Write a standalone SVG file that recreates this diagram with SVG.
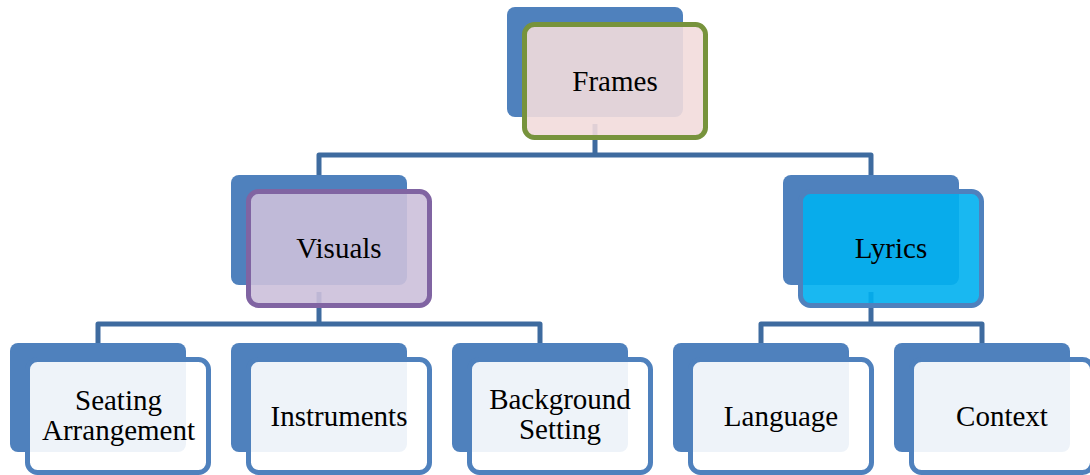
<svg xmlns="http://www.w3.org/2000/svg" width="1090" height="475" viewBox="0 0 1090 475">
<style>
.back{fill:#4f81bd}
.front{stroke-width:5}
.leaf{fill:#ffffff;fill-opacity:0.9;stroke:#4f81bd}
.conn{fill:none;stroke:#3e6b9f;stroke-width:5;stroke-linejoin:round}
text{font-family:"Liberation Serif","Times New Roman",serif;font-size:29px;fill:#000;text-anchor:middle}
</style>
<rect width="1090" height="475" fill="#ffffff"/>
<g id="connectors">
<path class="conn" d="M595 124 V155 M319 175 V155 H871 V175"/>
<path class="conn" d="M319 292 V324 M98 343 V324 H540 V343"/>
<path class="conn" d="M871 292 V324 M761 343 V324 H982 V343"/>
</g>
<g id="frames">
<rect class="back" x="507" y="7" width="176" height="110" rx="8"/>
<rect class="front" x="524.5" y="24.5" width="181" height="113" rx="10" fill="#f2dcdb" fill-opacity="0.9" stroke="#77933c"/>
<text x="615" y="91">Frames</text>
</g>
<g id="visuals">
<rect class="back" x="231" y="175" width="176" height="110" rx="8"/>
<rect class="front" x="248.5" y="191.5" width="181" height="114" rx="10" fill="#ccc0da" fill-opacity="0.9" stroke="#8064a2"/>
<text x="339" y="258">Visuals</text>
</g>
<g id="lyrics">
<rect class="back" x="783" y="175" width="176" height="110" rx="8"/>
<rect class="front" x="800.5" y="191.5" width="181" height="114" rx="10" fill="#00b0f0" fill-opacity="0.9" stroke="#4f81bd"/>
<text x="891" y="258">Lyrics</text>
</g>
<g id="seating">
<rect class="back" x="10" y="343" width="176" height="109" rx="8"/>
<rect class="front leaf" x="27.5" y="359.5" width="181" height="113" rx="10"/>
<text x="118.5" y="410">Seating</text>
<text x="118.5" y="440">Arrangement</text>
</g>
<g id="instruments">
<rect class="back" x="231" y="343" width="176" height="109" rx="8"/>
<rect class="front leaf" x="248.5" y="359.5" width="181" height="113" rx="10"/>
<text x="339" y="426">Instruments</text>
</g>
<g id="background">
<rect class="back" x="452" y="343" width="176" height="109" rx="8"/>
<rect class="front leaf" x="469.5" y="359.5" width="181" height="113" rx="10"/>
<text x="560" y="409">Background</text>
<text x="560" y="439">Setting</text>
</g>
<g id="language">
<rect class="back" x="673" y="343" width="176" height="109" rx="8"/>
<rect class="front leaf" x="690.5" y="359.5" width="181" height="113" rx="10"/>
<text x="781" y="426">Language</text>
</g>
<g id="context">
<rect class="back" x="894" y="343" width="176" height="109" rx="8"/>
<rect class="front leaf" x="911.5" y="359.5" width="181" height="113" rx="10"/>
<text x="1002" y="426">Context</text>
</g>
</svg>
